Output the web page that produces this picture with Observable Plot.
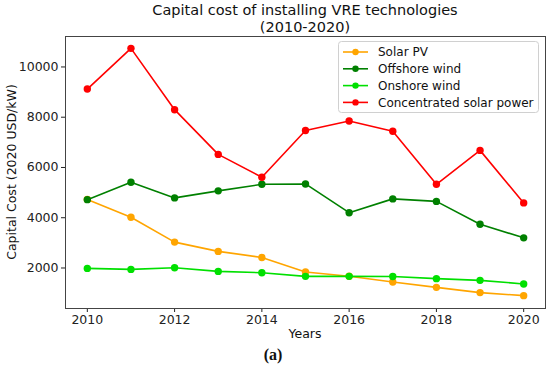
<!DOCTYPE html>
<html>
<head>
<meta charset="utf-8">
<script src="https://cdn.jsdelivr.net/npm/d3@7"></script>
<script src="https://cdn.jsdelivr.net/npm/@observablehq/plot@0.6"></script>
<style>
  html, body { margin: 0; padding: 0; background: #fff; }
  #chart svg { display: block; }
</style>
</head>
<body>
<div id="chart"></div>
<script>
const years = [2010, 2011, 2012, 2013, 2014, 2015, 2016, 2017, 2018, 2019, 2020];
const seriesNames = ["Solar PV", "Offshore wind", "Onshore wind", "Concentrated solar power"];
const seriesColors = ["#ffa500", "#008000", "#00e000", "#ff0000"];
const solarPV = [4730, 4020, 3030, 2660, 2420, 1840, 1670, 1440, 1230, 1020, 900];
const offshoreWind = [4720, 5410, 4790, 5070, 5330, 5345, 4200, 4750, 4650, 3740, 3200];
const onshoreWind = [1984, 1944, 2010, 1865, 1813, 1667, 1667, 1660, 1576, 1508, 1365];
const csp = [9120, 10740, 8300, 6520, 5610, 7470, 7850, 7440, 5330, 6680, 4590];
const xTicks = [2010, 2012, 2014, 2016, 2018, 2020];
const yTicks = [2000, 4000, 6000, 8000, 10000];
const titleLines = ["Capital cost of installing VRE technologies", "(2010-2020)"];
const xLabel = "Years";
const yLabel = "Capital Cost (2020 USD/kW)";
const caption = "(a)";

const allSeries = [solarPV, offshoreWind, onshoreWind, csp];
const data = [];
allSeries.forEach((vals, i) => vals.forEach((v, j) => data.push({series: seriesNames[i], year: years[j], value: v})));

const marks = [];
seriesNames.forEach((name, i) => {
  const d = data.filter(r => r.series === name);
  marks.push(Plot.line(d, {x: "year", y: "value", stroke: seriesColors[i], strokeWidth: 1.6}));
  marks.push(Plot.dot(d, {x: "year", y: "value", fill: seriesColors[i], r: 3.7}));
});

const W = 550, H = 365, ML = 65, MR = 5, MT = 36, MB = 57;
const plot = Plot.plot({
  width: W, height: H,
  marginLeft: ML, marginRight: MR, marginTop: MT, marginBottom: MB,
  style: {fontFamily: "DejaVu Sans", fontSize: "12.5px", color: "#222", background: "#fff"},
  x: {domain: [2009.5, 2020.5], label: null},
  y: {domain: [388, 11212], label: null},
  marks: [
    Plot.axisX({ticks: xTicks, tickFormat: d => String(d), tickSize: 4, tickPadding: 3, fontSize: 12.5, label: null}),
    Plot.axisY({ticks: yTicks, tickFormat: d => String(d), tickSize: 4, tickPadding: 3, fontSize: 12.5, label: null}),
    ...marks,
    Plot.frame({stroke: "#444", strokeWidth: 1})
  ]
});

const svg = d3.select(plot);
const cx = ML + (W - ML - MR) / 2;
function addText(x, y, str, size, anchor, family, weight) {
  return svg.append("text").attr("x", x).attr("y", y)
    .style("text-anchor", anchor).style("font-family", family || "DejaVu Sans")
    .style("font-size", size + "px").style("font-weight", weight || "normal")
    .style("fill", "#111").text(str);
}
addText(cx, 15, titleLines[0], 14.5, "middle");
addText(cx, 32, titleLines[1], 14.5, "middle");
addText(cx, 338, xLabel, 12.5, "middle");
addText(0, 0, yLabel, 12.5, "middle").attr("transform", `translate(16,${MT + (H - MT - MB) / 2}) rotate(-90)`);
addText(273, 360, caption, 16, "middle", "Liberation Serif", "bold");

// legend
const lg = svg.append("g");
lg.append("rect").attr("x", 338.5).attr("y", 41.5).attr("width", 200).attr("height", 71).attr("rx", 3)
  .attr("fill", "#fff").attr("fill-opacity", 0.85).attr("stroke", "#d0d0d0");
seriesNames.forEach((name, i) => {
  const yy = 52 + i * 16.8;
  lg.append("line").attr("x1", 343).attr("x2", 368).attr("y1", yy).attr("y2", yy).attr("stroke", seriesColors[i]).attr("stroke-width", 1.6);
  lg.append("circle").attr("cx", 355.5).attr("cy", yy).attr("r", 3.2).attr("fill", seriesColors[i]);
  lg.append("text").attr("x", 378).attr("y", yy).attr("dy", "0.36em")
    .style("text-anchor", "start").style("font-family", "DejaVu Sans").style("font-size", "12px")
    .style("fill", "#111").text(name);
});

document.getElementById("chart").appendChild(plot);
</script>
</body>
</html>
